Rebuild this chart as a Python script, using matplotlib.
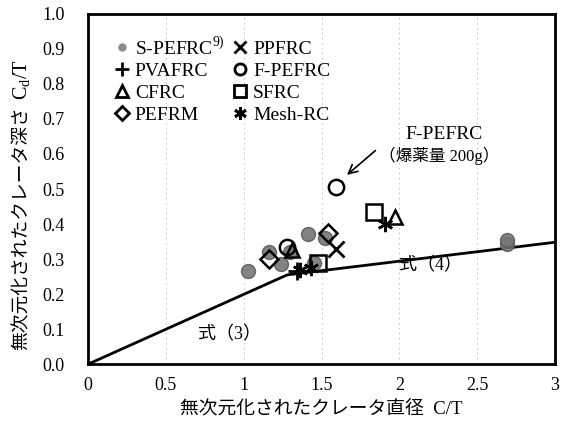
import matplotlib.pyplot as plt
from matplotlib.lines import Line2D
from matplotlib.ticker import FixedLocator

plt.rcParams['font.family'] = ['Liberation Serif', 'Noto Sans CJK JP']
plt.rcParams['mathtext.fontset'] = 'custom'
plt.rcParams['mathtext.rm'] = 'Liberation Serif'

# 各シリーズ (C/T, Cd/T)
s_pefrc_x = [1.03, 1.16, 1.24, 1.30, 1.41, 1.45, 1.52, 2.69, 2.69]
s_pefrc_y = [0.265, 0.32, 0.285, 0.32, 0.372, 0.29, 0.36, 0.342, 0.355]
ppfrc_x = [1.59]
ppfrc_y = [0.33]
pvafrc_x = [1.34]
pvafrc_y = [0.265]
fpefrc_x = [1.28, 1.59]
fpefrc_y = [0.335, 0.505]
cfrc_x = [1.31, 1.97]
cfrc_y = [0.325, 0.42]
sfrc_x = [1.48, 1.84]
sfrc_y = [0.29, 0.435]
pefrm_x = [1.16, 1.54]
pefrm_y = [0.30, 0.375]
meshrc_x = [1.36, 1.43, 1.91]
meshrc_y = [0.27, 0.275, 0.40]

# 式(3), 式(4)
eq_x = [0, 1.28, 3.0]
eq_y = [0, 0.255, 0.348]

fig = plt.figure(figsize=(5.73, 4.32), dpi=100)
ax = fig.add_axes([0.1536, 0.157, 0.815, 0.811])

ax.plot(eq_x, eq_y, color='black', lw=2, zorder=2)

ax.plot(s_pefrc_x, s_pefrc_y, 'o', ms=10, color='#767676', mec='#5a5a5a', alpha=0.9, zorder=3)
ax.plot(fpefrc_x, fpefrc_y, 'o', ms=11, mfc='none', mec='black', mew=1.8, zorder=4)
ax.plot(pefrm_x, pefrm_y, 'D', ms=9, mfc='none', mec='black', mew=1.8, zorder=4)
ax.plot(sfrc_x, sfrc_y, 's', ms=11, mfc='none', mec='black', mew=1.8, zorder=4)
ax.plot(cfrc_x, cfrc_y, '^', ms=10, mfc='none', mec='black', mew=1.8, zorder=4)
ax.plot(ppfrc_x, ppfrc_y, 'x', ms=11, color='black', mew=2, zorder=5)
ax.plot(pvafrc_x, pvafrc_y, '+', ms=13, color='black', mew=2, zorder=5)
ax.plot(meshrc_x, meshrc_y, marker=(6, 2, 0), ls='none', ms=11, color='black', mew=1.8, zorder=5)

ax.set_xlim(0, 3)
ax.set_ylim(0, 1.0)
ax.xaxis.set_major_locator(FixedLocator([0, 0.5, 1, 1.5, 2, 2.5, 3]))
ax.yaxis.set_major_locator(FixedLocator([i / 10 for i in range(11)]))
ax.set_xticklabels(['0', '0.5', '1', '1.5', '2', '2.5', '3'])
ax.set_yticklabels([f'{i / 10:.1f}' for i in range(11)])
ax.tick_params(length=0, labelsize=13)
ax.tick_params(axis='x', pad=9)
ax.tick_params(axis='y', pad=17)
ax.grid(axis='x', color='#bbbbbb', ls=(0, (2, 4)), lw=0.6)
for sp in ax.spines.values():
    sp.set_linewidth(2)

ax.set_xlabel('無次元化されたクレータ直径  C/T', fontsize=13.5, labelpad=5)
# 縦軸ラベル: 日本語部分と C_d/T を分けて配置
ax.text(-0.141, 0.04, '無次元化されたクレータ深さ', rotation=90, fontsize=13.5,
        ha='center', va='bottom', transform=ax.transAxes)
ax.text(-0.141, 0.755, 'C$_\\mathrm{d}$/T', rotation=90, fontsize=14.5,
        ha='center', va='bottom', transform=ax.transAxes)

ax.annotate('', xy=(1.65, 0.535), xytext=(1.86, 0.615),
            arrowprops=dict(arrowstyle='->', color='black', lw=1.2, mutation_scale=16))
ax.text(2.04, 0.655, 'F-PEFRC', fontsize=14, ha='left', va='center')
ax.text(1.87, 0.595, '（爆薬量 200g）', fontsize=12, ha='left', va='center')
ax.text(2.2, 0.28, '式（4）', fontsize=13, ha='center', va='center')
ax.text(0.91, 0.085, '式（3）', fontsize=13, ha='center', va='center')

handles = [
    Line2D([], [], ls='none', marker='o', ms=5, color='#8a8a8a'),
    Line2D([], [], ls='none', marker='+', ms=10, color='black', mew=2),
    Line2D([], [], ls='none', marker='^', ms=8, mfc='none', mec='black', mew=2),
    Line2D([], [], ls='none', marker='D', ms=7, mfc='none', mec='black', mew=2),
    Line2D([], [], ls='none', marker='x', ms=9, color='black', mew=2),
    Line2D([], [], ls='none', marker='o', ms=8, mfc='none', mec='black', mew=2),
    Line2D([], [], ls='none', marker='s', ms=8, mfc='none', mec='black', mew=2),
    Line2D([], [], ls='none', marker=(6, 2, 0), ms=9, color='black', mew=2),
]
labels = ['S-PEFRC$^{\\mathrm{9)}}$', 'PVAFRC', 'CFRC', 'PEFRM',
          'PPFRC', 'F-PEFRC', 'SFRC', 'Mesh-RC']
ax.legend(handles, labels, ncol=2, loc='upper left', bbox_to_anchor=(0.04, 0.96),
          frameon=False, fontsize=14, handlelength=0.8, handletextpad=0.25,
          columnspacing=0.4, labelspacing=0.22, borderaxespad=0)

fig.savefig('out.png', dpi=100)
